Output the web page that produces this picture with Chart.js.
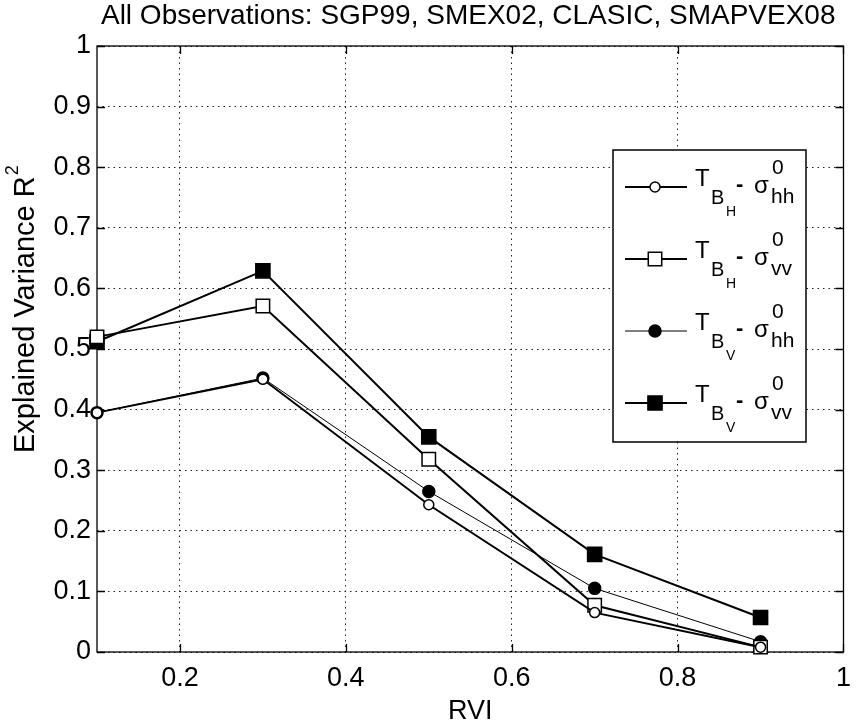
<!DOCTYPE html>
<html>
<head>
<meta charset="utf-8">
<script src="https://cdn.jsdelivr.net/npm/chart.js@4.4.1/dist/chart.umd.min.js"></script>
<style>
  html, body { margin: 0; padding: 0; background: #fff; }
  #wrap { width: 861px; height: 725px; }
</style>
</head>
<body>
<div id="wrap"><canvas id="rviChart" width="861" height="725"></canvas></div>
<script>
// data
const rvi = [0.1, 0.3, 0.5, 0.7, 0.9];
const tbhHH = [0.395, 0.450, 0.243, 0.065, 0.008];
const tbhVV = [0.520, 0.571, 0.318, 0.077, 0.008];
const tbvHH = [0.395, 0.452, 0.265, 0.105, 0.017];
const tbvVV = [0.512, 0.629, 0.355, 0.161, 0.057];

const xTicks = [0.2, 0.4, 0.6, 0.8, 1];
const xTickLabels = ['0.2', '0.4', '0.6', '0.8', '1'];
const yTicks = [0, 0.1, 0.2, 0.3, 0.4, 0.5, 0.6, 0.7, 0.8, 0.9, 1];
const yTickLabels = ['0', '0.1', '0.2', '0.3', '0.4', '0.5', '0.6', '0.7', '0.8', '0.9', '1'];

const titleText = 'All Observations: SGP99, SMEX02, CLASIC, SMAPVEX08';
const xTitle = 'RVI';
const yTitle = 'Explained Variance R';
const legendPol = ['H', 'H', 'V', 'V'];
const legendSig = ['hh', 'vv', 'hh', 'vv'];

const FONT = "'Liberation Sans', Arial, sans-serif";

function pts(ys) {
    return rvi.map((x, i) => ({ x: x, y: ys[i] }));
}

const styles = [
    { data: tbhHH, width: 2, shape: 'circle', radius: 5, fill: '#fff' },
    { data: tbhVV, width: 2, shape: 'rect', radius: 9.5, fill: '#fff' },
    { data: tbvHH, width: 1, shape: 'circle', radius: 6, fill: '#000' },
    { data: tbvVV, width: 2, shape: 'rect', radius: 10, fill: '#000' }
];

function drawMarker(ctx, s, x, y) {
    ctx.save();
    ctx.fillStyle = s.fill;
    ctx.strokeStyle = '#000';
    ctx.lineWidth = 1.5;
    ctx.beginPath();
    if (s.shape === 'circle') {
        ctx.arc(x, y, s.radius, 0, Math.PI * 2);
    } else {
        const h = s.radius * Math.SQRT1_2;
        ctx.rect(x - h, y - h, 2 * h, 2 * h);
    }
    ctx.fill();
    ctx.stroke();
    ctx.restore();
}

// MATLAB style frame, inward ticks, title, y label and legend
const matlabFrame = {
    id: 'matlabFrame',
    beforeDatasetsDraw(chart) {
        const { ctx, chartArea: a, scales } = chart;
        ctx.save();
        ctx.strokeStyle = '#000';
        ctx.lineWidth = 1.3;
        ctx.strokeRect(a.left, a.top, a.right - a.left, a.bottom - a.top);
        ctx.beginPath();
        xTicks.forEach(v => {
            const x = Math.round(scales.x.getPixelForValue(v)) + 0.5;
            ctx.moveTo(x, a.bottom); ctx.lineTo(x, a.bottom - 8);
            ctx.moveTo(x, a.top); ctx.lineTo(x, a.top + 8);
        });
        yTicks.forEach(v => {
            const y = Math.round(scales.y.getPixelForValue(v)) + 0.5;
            ctx.moveTo(a.left, y); ctx.lineTo(a.left + 8, y);
            ctx.moveTo(a.right, y); ctx.lineTo(a.right - 8, y);
        });
        ctx.stroke();
        ctx.restore();
    },
    afterDraw(chart) {
        const { ctx, chartArea: a } = chart;
        ctx.save();
        ctx.fillStyle = '#000';

        // title
        ctx.font = '28px ' + FONT;
        ctx.textAlign = 'center';
        ctx.textBaseline = 'alphabetic';
        ctx.fillText(titleText, (a.left + a.right) / 2 - 2, 24);

        // y label, rotated
        ctx.save();
        ctx.translate(34, 453);
        ctx.rotate(-Math.PI / 2);
        ctx.textAlign = 'left';
        ctx.font = '29px ' + FONT;
        ctx.fillText(yTitle, 0, 0);
        const w = ctx.measureText(yTitle).width;
        ctx.font = '18px ' + FONT;
        ctx.fillText('2', w + 1, -16);
        ctx.restore();

        // legend box
        ctx.fillStyle = '#fff';
        ctx.fillRect(613, 150, 193, 292);
        ctx.strokeStyle = '#000';
        ctx.lineWidth = 1.5;
        ctx.strokeRect(613, 150, 193, 292);
        ctx.fillStyle = '#000';
        ctx.textAlign = 'left';
        ctx.textBaseline = 'alphabetic';
        styles.forEach((s, i) => {
            const L = 187 + i * 72;
            ctx.beginPath();
            ctx.lineWidth = s.width;
            ctx.moveTo(625, L); ctx.lineTo(687, L);
            ctx.stroke();
            drawMarker(ctx, s, 655, L);
            ctx.font = '24px ' + FONT;
            ctx.fillText('T', 695, L - 1);
            ctx.font = '20px ' + FONT;
            ctx.fillText('B', 711, L + 17);
            ctx.font = '14px ' + FONT;
            ctx.fillText(legendPol[i], 726, L + 29);
            ctx.font = 'bold 22px ' + FONT;
            ctx.fillText('-', 736, L + 4);
            ctx.font = '24px ' + FONT;
            ctx.fillText('σ', 754, L + 6);
            ctx.font = '21px ' + FONT;
            ctx.fillText('0', 772, L - 13);
            ctx.fillText(legendSig[i], 771, L + 16);
        });
        ctx.restore();
    }
};

const ctx = document.getElementById('rviChart').getContext('2d');
const rviChart = new Chart(ctx, {
    type: 'line',
    data: {
        datasets: styles.map(s => ({
            data: pts(s.data),
            borderColor: '#000',
            borderWidth: s.width,
            pointStyle: s.shape,
            pointRadius: s.radius,
            pointBackgroundColor: s.fill,
            pointBorderColor: '#000',
            pointBorderWidth: 1.5,
            fill: false,
            tension: 0,
            clip: false
        }))
    },
    options: {
        responsive: false,
        animation: false,
        devicePixelRatio: 1,
        layout: { padding: { top: 46, right: 5, left: 0, bottom: 0 } },
        plugins: {
            legend: { display: false },
            title: { display: false },
            tooltip: { enabled: false }
        },
        scales: {
            x: {
                type: 'linear',
                min: 0.1,
                max: 1,
                afterFit: s => { s.height = 73; },
                afterBuildTicks: s => { s.ticks = xTicks.map(v => ({ value: v })); },
                ticks: {
                    callback: (v, i) => xTickLabels[i],
                    font: { family: FONT, size: 27 },
                    color: '#000',
                    padding: 10,
                    maxRotation: 0,
                    autoSkip: false
                },
                grid: { color: '#222', lineWidth: 1, drawTicks: false },
                border: { display: false, dash: [1.5, 4] },
                title: {
                    display: true,
                    text: xTitle,
                    color: '#000',
                    font: { family: FONT, size: 27, lineHeight: 1 },
                    padding: 0
                }
            },
            y: {
                type: 'linear',
                min: 0,
                max: 1,
                afterFit: s => { s.width = 97; },
                afterBuildTicks: s => { s.ticks = yTicks.map(v => ({ value: v })); },
                ticks: {
                    callback: (v, i) => yTickLabels[i],
                    font: { family: FONT, size: 27 },
                    color: '#000',
                    padding: 6,
                    autoSkip: false
                },
                grid: { color: '#222', lineWidth: 1, drawTicks: false },
                border: { display: false, dash: [1.5, 4] }
            }
        }
    },
    plugins: [matlabFrame]
});
</script>
</body>
</html>
